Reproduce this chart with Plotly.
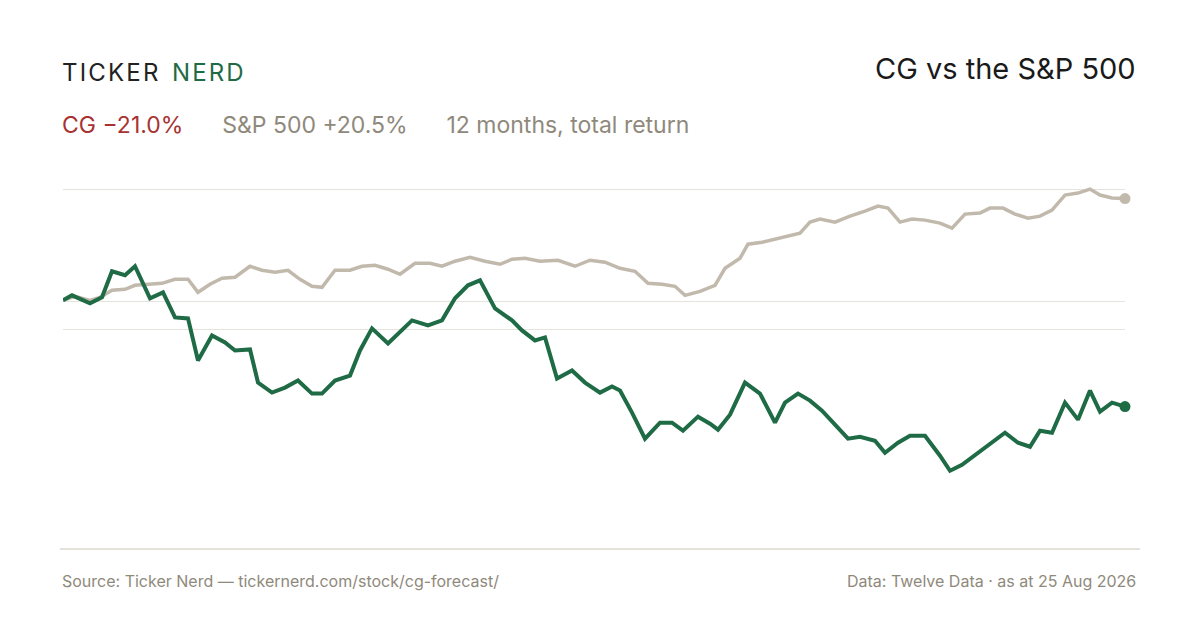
import plotly.graph_objects as go

# x in trading-day units across the 12 months (0..1062), y = total return %
sp_t = [0, 12, 27, 37, 49, 62, 72, 87, 99, 112, 125, 135, 147, 159, 172, 187, 199, 212, 225, 237, 249, 259,
        272, 287, 299, 312, 325, 337, 352, 367, 379, 392, 407, 422, 437, 449, 462, 477, 495, 512, 527, 542,
        557, 572, 585, 599, 612, 622, 637, 652, 662, 677, 685, 699, 712, 727, 737, 747, 757, 772, 787, 802,
        815, 825, 837, 849, 862, 877, 889, 902, 917, 927, 940, 952, 965, 977, 989, 1002, 1015, 1027, 1037,
        1049, 1062]
sp_v = [0.2, 1.0, 0.2, 0.8, 2.2, 2.4, 3.2, 3.4, 3.6, 4.4, 4.4, 1.8, 3.4, 4.6, 4.8, 7.0, 6.2, 5.8, 6.2, 4.4,
        3.0, 2.8, 6.2, 6.2, 7.0, 7.2, 6.4, 5.4, 7.6, 7.6, 7.0, 8.0, 8.8, 8.0, 7.4, 8.4, 8.6, 8.0, 8.2, 7.0,
        8.2, 7.8, 6.6, 6.0, 3.6, 3.4, 3.0, 1.2, 2.0, 3.2, 6.6, 8.6, 11.4, 11.8, 12.4, 13.0, 13.6, 15.8, 16.4,
        15.8, 17.0, 18.0, 19.0, 18.6, 15.8, 16.4, 16.2, 15.6, 14.6, 17.4, 17.6, 18.6, 18.6, 17.4, 16.6, 17.0,
        18.2, 21.2, 21.6, 22.4, 21.2, 20.6, 20.5]

cg_t = [0, 9, 27, 39, 49, 62, 72, 87, 100, 112, 125, 135, 149, 162, 172, 187, 195, 209, 222, 235, 249, 259,
        272, 287, 297, 309, 325, 337, 349, 365, 379, 392, 405, 417, 432, 449, 459, 472, 482, 494, 509, 522,
        537, 549, 557, 569, 582, 597, 609, 620, 635, 647, 655, 667, 682, 697, 712, 722, 735, 747, 759, 772,
        785, 797, 812, 822, 835, 847, 862, 877, 887, 899, 915, 927, 942, 955, 967, 977, 989, 1002, 1015,
        1027, 1037, 1049, 1062]
cg_v = [0.2, 1.2, -0.4, 0.8, 6.0, 5.2, 7.0, 0.6, 1.8, -3.2, -3.4, -11.8, -6.8, -8.2, -9.8, -9.6, -16.2,
        -18.2, -17.2, -15.8, -18.4, -18.4, -15.8, -14.8, -9.8, -5.4, -8.4, -6.2, -3.8, -4.8, -3.8, 0.6, 3.2,
        4.2, -1.4, -3.8, -5.8, -7.8, -7.2, -15.4, -13.8, -16.2, -18.2, -17.0, -17.8, -22.2, -27.4, -24.2,
        -24.2, -25.8, -23.0, -24.4, -25.6, -22.6, -16.2, -18.4, -24.2, -20.2, -18.4, -19.8, -21.8, -24.6,
        -27.4, -27.0, -27.8, -30.2, -28.2, -26.8, -26.8, -30.8, -33.8, -32.6, -30.2, -28.4, -26.2, -28.2,
        -29.0, -25.8, -26.2, -20.2, -23.6, -17.8, -22.0, -20.2, -21.0]

grid_vals = [22.4, 0, -5.6]

GREEN = "#1e6b45"
SAND = "#c2b9ad"
GREY = "#8f897c"
RED = "#a83232"
FONT = "Inter, Roboto, sans-serif"

fig = go.Figure()
fig.add_trace(go.Scatter(x=sp_t, y=sp_v, mode="lines", line=dict(color=SAND, width=3.5), hoverinfo="skip"))
fig.add_trace(go.Scatter(x=cg_t, y=cg_v, mode="lines", line=dict(color=GREEN, width=4), hoverinfo="skip"))
fig.add_trace(go.Scatter(x=[sp_t[-1]], y=[sp_v[-1]], mode="markers", marker=dict(color=SAND, size=11),
                         cliponaxis=False))
fig.add_trace(go.Scatter(x=[cg_t[-1]], y=[cg_v[-1]], mode="markers", marker=dict(color=GREEN, size=11),
                         cliponaxis=False))

fig.update_layout(
    width=1200, height=630, showlegend=False,
    paper_bgcolor="white", plot_bgcolor="white",
    margin=dict(l=55, r=83, t=164, b=89),
    font=dict(family=FONT),
    xaxis=dict(range=[0, 1062], visible=False),
    yaxis=dict(range=[-49.4, 25.8], tickvals=grid_vals, showticklabels=False,
               gridcolor="#e6e2dc", gridwidth=1, zeroline=False, showline=False),
)
fig.add_shape(type="line", xref="paper", yref="paper", x0=-0.003, x1=1.014, y0=0, y1=0,
              line=dict(color="#dcd7cf", width=1.5))

hs = "\u200a"
logo = hs.join("TICKER") + "  " + "<span style='color:%s'>%s</span>" % (GREEN, hs.join("NERD"))
fig.add_annotation(xref="paper", yref="paper", x=-0.003, y=1.0, yshift=100, xanchor="left", yanchor="middle",
                   showarrow=False, font=dict(size=24, color="#222222", family=FONT), text=logo)
fig.add_annotation(xref="paper", yref="paper", x=1.0125, y=1.0, yshift=104, xanchor="right", yanchor="middle",
                   showarrow=False, font=dict(size=29, color="#1a1a1a", family=FONT),
                   text="CG vs the S&amp;P 500")
fig.add_annotation(xref="paper", yref="paper", x=-0.003, y=1.0, yshift=47, xanchor="left", yanchor="middle",
                   showarrow=False, font=dict(size=23, color=GREY, family=FONT),
                   text="<span style='color:%s'>CG −21.0%%</span>      S&amp;P 500 +20.5%%      12 months, total return" % RED)
fig.add_annotation(xref="paper", yref="paper", x=-0.003, y=0, yshift=-32, xanchor="left", yanchor="middle",
                   showarrow=False, font=dict(size=16, color=GREY, family=FONT),
                   text="Source: Ticker Nerd — tickernerd.com/stock/cg-forecast/")
fig.add_annotation(xref="paper", yref="paper", x=1.0125, y=0, yshift=-32, xanchor="right", yanchor="middle",
                   showarrow=False, font=dict(size=16, color=GREY, family=FONT),
                   text="Data: Twelve Data · as at 25 Aug 2026")

fig.write_html("out.html")
